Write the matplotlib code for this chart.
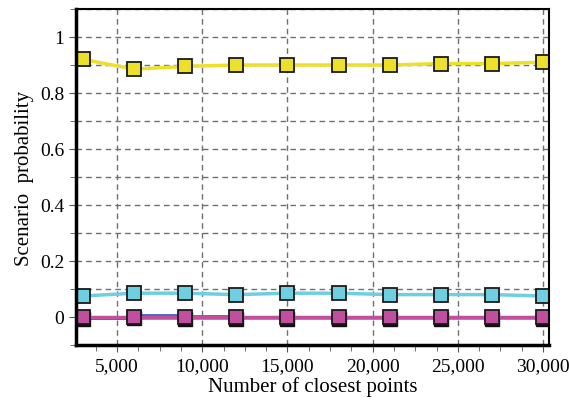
import matplotlib.pyplot as plt
from matplotlib.ticker import MultipleLocator, FuncFormatter

n_points = [3000, 6000, 9000, 12000, 15000, 18000, 21000, 24000, 27000, 30000]
yellow = [0.92, 0.885, 0.895, 0.90, 0.90, 0.90, 0.90, 0.905, 0.905, 0.91]
cyan = [0.075, 0.085, 0.085, 0.08, 0.085, 0.085, 0.08, 0.08, 0.08, 0.075]
magenta = [0.0, 0.0, 0.0, 0.0, 0.0, 0.0, 0.0, 0.0, 0.0, 0.0]
blue = [-0.003, 0.008, 0.005, 0.0, 0.0, 0.0, 0.0, 0.0, 0.0, 0.0]
green = [-0.004, -0.004, -0.004, -0.004, -0.004, -0.004, -0.004, -0.004, -0.004, -0.004]
black = [-0.006, -0.004, -0.006, -0.006, -0.006, -0.006, -0.006, -0.006, -0.006, -0.006]

plt.rcParams['font.family'] = ['Liberation Serif']

fig = plt.figure(figsize=(5.69, 4.02), dpi=100)
ax = fig.add_axes([76 / 569, 56 / 402, 473 / 569, 336 / 402])

mk = dict(marker='s', markersize=10.5, markeredgecolor='#1a1a1a', markeredgewidth=1.3)
ax.plot(n_points, green, color='#5cb85c', lw=2)
ax.plot(n_points, blue, color='#4060c0', lw=2, drawstyle='steps-post')
ax.plot(n_points, black, color='none', marker='s', markersize=10.5,
        markerfacecolor='#111111', markeredgecolor='#111111')
ax.plot(n_points, magenta, color='#c04fa0', lw=2.5, markerfacecolor='#c04fa0', **mk)
ax.plot(n_points, cyan, color='#6dcfdf', lw=2.5, markerfacecolor='#6dcfdf', **mk)
ax.plot(n_points, yellow, color='#ece02a', lw=2.5, markerfacecolor='#ece02a', **mk)

ax.set_xlim(2590, 30350)
ax.set_ylim(-0.1, 1.1)
ax.xaxis.set_major_locator(MultipleLocator(5000))
ax.xaxis.set_minor_locator(MultipleLocator(1250))
ax.yaxis.set_major_locator(MultipleLocator(0.2))
ax.yaxis.set_minor_locator(MultipleLocator(0.1))
ax.xaxis.set_major_formatter(FuncFormatter(lambda v, p: f"{int(v):,}"))
ax.yaxis.set_major_formatter(FuncFormatter(lambda v, p: f"{v:g}" if abs(v) > 1e-9 else "0"))

ax.grid(True, which='major', axis='x', ls=(0, (4, 3)), color='#707070', lw=1)
ax.grid(True, which='both', axis='y', ls=(0, (4, 3)), color='#707070', lw=1)
ax.set_axisbelow(True)

ax.tick_params(which='both', direction='out', labelsize=14, color='#555555')
ax.tick_params(which='major', length=5)
ax.tick_params(which='minor', length=4)
for s in ['left', 'bottom']:
    ax.spines[s].set_linewidth(2.5)
for s in ['top', 'right']:
    ax.spines[s].set_linewidth(1.5)

ax.set_xlabel("Number of closest points", fontsize=15, labelpad=2)
ax.set_ylabel("Scenario  probability", fontsize=15)

fig.savefig("out.png", dpi=100)
